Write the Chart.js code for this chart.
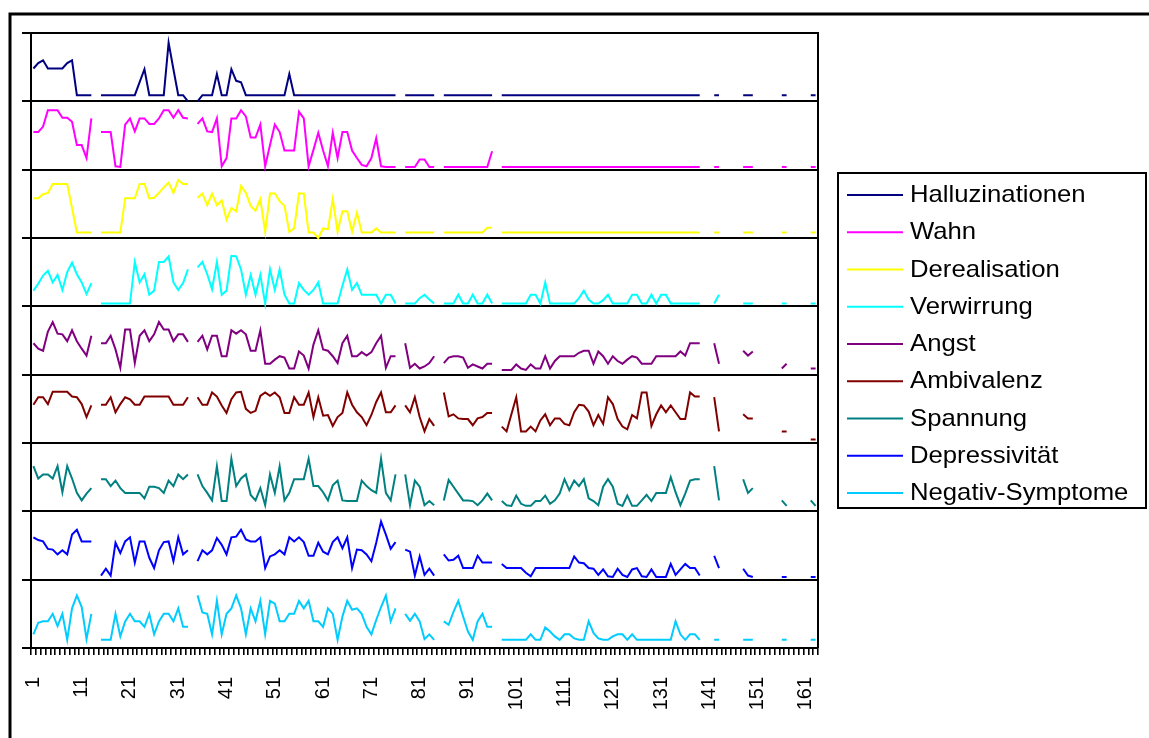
<!DOCTYPE html>
<html>
<head>
<meta charset="utf-8">
<title>Symptomverlauf</title>
<script src="https://cdn.jsdelivr.net/npm/chart.js@4.4.1/dist/chart.umd.min.js"></script>
<style>
html, body { margin: 0; padding: 0; background: #fff; }
#wrap { width: 1149px; height: 738px; position: relative; }
</style>
</head>
<body>
<div id="wrap"><canvas id="chart"></canvas></div>
<script>
var _ = null;

// Beobachtungstage 1..163
var days = [];
for (var d = 1; d <= 163; d++) days.push(String(d));

var names = ['Halluzinationen', 'Wahn', 'Derealisation', 'Verwirrung', 'Angst',
             'Ambivalenz', 'Spannung', 'Depressivität', 'Negativ-Symptome'];
var colors = ['#000080', '#ff00ff', '#ffff00', '#00ffff', '#800080',
              '#800000', '#008080', '#0000ff', '#00ccff'];

// Werte je Feld, 0 = unterer Rand, 10 = oberer Rand des Feldes
var halluzinationen = [
  4.8, 5.6, 6.0, 4.8, 4.8, 4.8, 4.8, 5.6, 6.0, 0.9, 0.9, 0.9, 0.9, _,
  0.9, 0.9, 0.9, 0.9, 0.9, 0.9, 0.9, 0.9, 2.8, 4.7, 0.9, 0.9, 0.9, 0.9, 8.6, 4.7, 0.9, 0.9, 0.0, _,
  0.0, 0.9, 0.9, 0.9, 4.0, 0.9, 0.9, 4.7, 3.0, 2.8,
  0.9, 0.9, 0.9, 0.9, 0.9, 0.9, 0.9, 0.9, 0.9, 4.0,
  0.9, 0.9, 0.9, 0.9, 0.9, 0.9, 0.9, 0.9, 0.9, 0.9,
  0.9, 0.9, 0.9, 0.9, 0.9, 0.9, 0.9, 0.9, 0.9, 0.9,
  0.9, 0.9, _,
  0.9, 0.9, 0.9, 0.9, 0.9, 0.9, 0.9, _,
  0.9, 0.9, 0.9, 0.9, 0.9, 0.9, 0.9, 0.9, 0.9, 0.9, 0.9, _,
  0.9, 0.9, 0.9, 0.9, 0.9, 0.9, 0.9, 0.9, 0.9, 0.9,
  0.9, 0.9, 0.9, 0.9, 0.9, 0.9, 0.9, 0.9, 0.9, 0.9,
  0.9, 0.9, 0.9, 0.9, 0.9, 0.9, 0.9, 0.9, 0.9, 0.9,
  0.9, 0.9, 0.9, 0.9, 0.9, 0.9, 0.9, 0.9, 0.9, 0.9,
  0.9, 0.9,
  _, _, 0.9, 0.9, _, _, _, _, 0.9, 0.9, 0.9, _, _, _, _, _, 0.9, 0.9, _, _, _, _, 0.9, 0.9
];
var wahn = [
  5.5, 5.5, 6.3, 8.7, 8.7, 8.7, 7.6, 7.6, 7.0, 3.6, 3.6, 1.7, 7.5, _,
  5.5, 5.5, 5.5, 0.5, 0.4, 6.6, 7.5, 5.6, 7.5, 7.5, 6.7, 6.7, 7.5, 8.7, 8.7, 7.6, 8.7, 7.6, 7.5, _,
  6.7, 7.5, 5.6, 5.5, 7.5, 0.5, 1.7, 7.5, 7.5, 8.7,
  7.8, 4.7, 4.7, 6.6, 0.5, 3.6, 6.6, 5.5, 2.8, 2.8,
  2.8, 8.5, 7.5, 0.5, 2.9, 5.4, 2.8, 0.5, 5.4, 1.7,
  5.5, 5.5, 2.8, 1.7, 0.7, 0.5, 1.7, 4.6, 0.5, 0.4,
  0.4, 0.4, _,
  0.4, 0.4, 0.4, 1.5, 1.5, 0.4, 0.4, _,
  0.4, 0.4, 0.4, 0.4, 0.4, 0.4, 0.4, 0.4, 0.4, 0.4, 2.7, _,
  0.4, 0.4, 0.4, 0.4, 0.4, 0.4, 0.4, 0.4, 0.4, 0.4,
  0.4, 0.4, 0.4, 0.4, 0.4, 0.4, 0.4, 0.4, 0.4, 0.4,
  0.4, 0.4, 0.4, 0.4, 0.4, 0.4, 0.4, 0.4, 0.4, 0.4,
  0.4, 0.4, 0.4, 0.4, 0.4, 0.4, 0.4, 0.4, 0.4, 0.4,
  0.4, 0.4,
  _, _, 0.4, 0.4, _, _, _, _, 0.4, 0.4, 0.4, _, _, _, _, _, 0.4, 0.4, _, _, _, _, 0.4, 0.4
];
var derealisation = [
  5.8, 5.8, 6.4, 6.6, 7.9, 7.9, 7.9, 7.9, 4.4, 0.8, 0.8, 0.8, 0.8, _,
  0.8, 0.8, 0.8, 0.8, 0.8, 5.8, 5.8, 5.8, 7.9, 7.9, 5.8, 5.9, 6.6, 7.4, 8.1, 6.6, 8.5, 7.9, 7.9, _,
  5.9, 6.5, 4.8, 6.5, 4.8, 5.5, 2.7, 4.4, 3.9, 7.6,
  6.6, 4.7, 4.0, 5.7, 0.9, 6.5, 6.5, 5.4, 4.7, 0.9,
  1.4, 6.5, 6.5, 0.8, 0.8, 0.0, 1.4, 1.3, 5.7, 0.9,
  3.9, 3.9, 0.9, 3.7, 0.8, 0.8, 0.8, 1.4, 0.8, 0.8,
  0.8, 0.8, _,
  0.8, 0.8, 0.8, 0.8, 0.8, 0.8, 0.8, _,
  0.8, 0.8, 0.8, 0.8, 0.8, 0.8, 0.8, 0.8, 0.8, 1.5, 1.5, _,
  0.8, 0.8, 0.8, 0.8, 0.8, 0.8, 0.8, 0.8, 0.8, 0.8,
  0.8, 0.8, 0.8, 0.8, 0.8, 0.8, 0.8, 0.8, 0.8, 0.8,
  0.8, 0.8, 0.8, 0.8, 0.8, 0.8, 0.8, 0.8, 0.8, 0.8,
  0.8, 0.8, 0.8, 0.8, 0.8, 0.8, 0.8, 0.8, 0.8, 0.8,
  0.8, 0.8,
  _, _, 0.8, 0.8, _, _, _, _, 0.8, 0.8, 0.8, _, _, _, _, _, 0.8, 0.8, _, _, _, _, 0.8, 0.8
];
var verwirrung = [
  2.3, 3.3, 4.5, 5.2, 3.5, 4.6, 2.4, 5.0, 6.4, 4.7, 3.5, 1.8, 3.4, _,
  0.4, 0.4, 0.4, 0.4, 0.4, 0.4, 0.4, 6.5, 3.5, 4.7, 1.7, 2.3, 6.5, 6.5, 7.3, 3.5, 2.4, 3.4, 5.4, _,
  5.7, 6.5, 4.7, 2.5, 6.5, 1.7, 2.3, 7.4, 7.3, 5.4,
  1.7, 4.6, 1.7, 4.6, 0.4, 5.4, 2.4, 5.4, 1.7, 0.4,
  0.4, 3.4, 2.4, 1.7, 2.4, 3.5, 0.4, 0.4, 0.4, 0.4,
  3.0, 5.4, 2.4, 3.4, 1.7, 1.7, 1.7, 1.7, 0.4, 1.7,
  1.7, 0.4, _,
  0.4, 0.4, 0.4, 1.2, 1.7, 1.0, 0.4, _,
  0.4, 0.4, 0.4, 1.7, 0.4, 0.4, 1.7, 0.4, 0.4, 1.7, 0.4, _,
  0.4, 0.4, 0.4, 0.4, 0.4, 0.4, 1.7, 1.7, 0.4, 3.5,
  0.4, 0.4, 0.4, 0.4, 0.4, 0.4, 1.2, 2.3, 1.0, 0.4,
  0.4, 0.9, 1.7, 0.4, 0.4, 0.4, 0.4, 1.7, 1.7, 0.4,
  0.4, 1.7, 0.4, 1.7, 1.7, 0.4, 0.4, 0.4, 0.4, 0.4,
  0.4, 0.4,
  _, _, 0.4, 1.7, _, _, _, _, 0.4, 0.4, 0.4, _, _, _, _, _, 0.4, 0.4, _, _, _, _, 0.4, 0.4
];
var angst = [
  4.6, 3.8, 3.5, 6.3, 7.7, 6.0, 5.9, 4.9, 6.5, 4.9, 3.8, 2.8, 5.7, _,
  4.6, 4.6, 5.7, 3.7, 1.0, 6.6, 6.6, 1.7, 5.7, 6.5, 4.9, 5.9, 7.7, 6.6, 6.6, 4.9, 5.9, 5.9, 4.8, _,
  4.8, 5.7, 3.7, 5.7, 5.7, 2.7, 2.7, 6.5, 6.0, 6.5,
  5.9, 3.5, 3.5, 6.5, 1.6, 1.6, 2.2, 2.7, 2.5, 0.9,
  0.9, 3.4, 2.8, 0.9, 4.4, 6.5, 3.7, 3.5, 2.7, 1.7,
  4.6, 5.7, 2.7, 2.7, 3.3, 2.8, 3.3, 4.6, 5.7, 1.0,
  2.7, 2.7, _,
  4.6, 1.0, 1.6, 0.9, 1.2, 1.7, 2.7, _,
  1.7, 2.5, 2.7, 2.7, 2.5, 1.0, 1.5, 1.2, 0.9, 1.6, 1.6, _,
  0.7, 0.7, 0.7, 1.5, 0.9, 0.7, 1.5, 0.9, 0.9, 2.7,
  0.9, 2.0, 2.7, 2.7, 2.7, 2.7, 3.2, 3.5, 3.5, 1.6,
  3.4, 2.7, 1.6, 2.7, 2.0, 1.6, 2.2, 2.7, 2.5, 1.6,
  1.6, 1.6, 2.7, 2.7, 2.7, 2.7, 2.7, 3.4, 2.8, 4.6,
  4.6, 4.6,
  _, _, 4.6, 1.6, _, _, _, _, 3.5, 2.8, 3.4, _, _, _, _, _, 0.9, 1.6, _, _, _, _, 0.9, 0.9
];
var ambivalenz = [
  5.6, 6.7, 6.7, 5.7, 7.5, 7.5, 7.5, 7.5, 6.8, 6.7, 5.7, 3.8, 5.5, _,
  5.6, 5.6, 6.7, 4.5, 5.7, 6.7, 6.4, 5.6, 5.6, 6.8, 6.8, 6.8, 6.8, 6.8, 6.8, 5.6, 5.6, 5.6, 6.7, _,
  6.7, 5.6, 5.6, 7.4, 6.8, 5.5, 4.4, 6.4, 7.4, 7.5,
  5.0, 4.4, 4.7, 6.9, 7.4, 6.9, 7.4, 6.7, 4.4, 4.4,
  6.7, 5.6, 5.6, 7.4, 3.8, 6.7, 4.0, 4.1, 2.5, 3.8,
  4.4, 7.4, 5.6, 4.5, 3.8, 2.6, 4.1, 6.0, 7.4, 4.5,
  4.5, 5.5, _,
  5.5, 4.5, 6.7, 3.8, 1.7, 3.5, 2.5, _,
  7.4, 3.9, 4.2, 3.6, 3.5, 3.5, 2.6, 3.6, 3.8, 4.4, 4.4, _,
  2.4, 1.7, 4.2, 6.7, 1.7, 1.7, 2.4, 1.7, 3.3, 4.2,
  2.6, 3.6, 3.6, 2.8, 2.6, 4.5, 5.6, 5.5, 4.6, 2.6,
  4.1, 2.8, 6.7, 5.7, 3.5, 2.4, 2.0, 4.1, 3.6, 7.4,
  7.4, 2.5, 4.2, 5.5, 4.5, 5.5, 4.5, 3.5, 3.5, 7.4,
  6.8, 6.8,
  _, _, 6.7, 1.7, _, _, _, _, 4.2, 3.6, 3.6, _, _, _, _, _, 1.7, 1.7, _, _, _, _, 0.5, 0.5
];
var spannung = [
  6.6, 4.8, 5.4, 5.4, 4.8, 6.6, 2.8, 6.6, 4.8, 2.7, 1.6, 2.6, 3.4, _,
  4.7, 4.7, 3.7, 4.5, 3.4, 2.7, 2.7, 2.7, 2.7, 1.9, 3.6, 3.6, 3.4, 2.7, 4.5, 3.7, 5.4, 4.7, 5.4, _,
  5.4, 3.7, 2.7, 1.6, 6.6, 1.5, 1.5, 7.7, 3.7, 4.8,
  5.4, 2.4, 1.6, 3.4, 0.9, 5.4, 2.7, 6.6, 1.6, 2.7,
  4.7, 4.7, 4.7, 7.7, 3.7, 3.7, 2.8, 1.6, 3.8, 4.5,
  1.6, 1.5, 1.5, 1.5, 4.5, 3.7, 3.1, 2.7, 7.7, 2.7,
  1.6, 5.4, _,
  5.4, 0.9, 4.5, 3.6, 0.9, 1.5, 0.9, _,
  1.6, 4.6, 3.6, 2.6, 1.6, 1.6, 1.5, 0.9, 1.6, 2.6, 1.6, _,
  1.5, 0.9, 0.8, 2.3, 1.1, 0.8, 0.8, 1.5, 1.5, 2.3,
  1.1, 1.6, 2.6, 4.7, 3.1, 4.5, 3.7, 4.7, 1.9, 1.5,
  0.9, 3.6, 4.7, 3.6, 1.1, 0.8, 2.3, 0.8, 0.8, 1.6,
  2.4, 1.5, 2.7, 2.7, 2.7, 5.0, 2.8, 0.9, 2.6, 4.5,
  4.7, 4.7,
  _, _, 6.6, 1.6, _, _, _, _, 4.7, 2.7, 3.4, _, _, _, _, _, 1.6, 0.8, _, _, _, _, 1.6, 0.8
];
var depressivitaet = [
  6.2, 5.8, 5.6, 4.5, 4.4, 3.7, 4.3, 3.7, 6.6, 7.3, 5.6, 5.6, 5.6, _,
  0.6, 1.6, 0.6, 5.4, 3.9, 5.6, 6.2, 2.5, 5.6, 5.6, 3.2, 1.7, 4.3, 5.5, 5.6, 2.7, 6.2, 3.7, 4.3, _,
  2.7, 4.3, 3.7, 4.3, 6.1, 5.1, 3.7, 6.2, 6.3, 7.3,
  5.9, 5.6, 5.6, 6.2, 1.7, 3.4, 3.7, 4.3, 3.7, 6.2,
  5.6, 6.2, 5.5, 3.5, 3.5, 5.4, 4.1, 3.7, 5.5, 6.2,
  4.6, 6.2, 1.7, 4.4, 4.3, 3.7, 2.7, 5.4, 8.5, 6.6,
  4.5, 5.5, _,
  4.4, 4.1, 0.6, 3.4, 0.7, 1.6, 0.6, _,
  3.7, 2.8, 2.9, 3.5, 1.7, 1.7, 1.7, 3.5, 2.5, 2.5, 2.5, _,
  2.3, 1.7, 1.7, 1.7, 1.7, 1.0, 0.5, 1.7, 1.7, 1.7,
  1.7, 1.7, 1.7, 1.7, 1.7, 3.4, 2.5, 2.4, 1.7, 1.6,
  0.7, 1.5, 0.5, 0.4, 1.6, 0.7, 0.4, 1.5, 1.7, 0.5,
  0.4, 1.5, 0.4, 0.4, 0.4, 2.3, 0.7, 1.5, 2.3, 1.7,
  1.7, 0.6,
  _, _, 3.5, 1.7, _, _, _, _, 1.6, 0.6, 0.4, _, _, _, _, _, 0.4, 0.4, _, _, _, _, 0.4, 0.4
];
var negativ = [
  2.0, 3.7, 3.9, 3.9, 5.0, 3.2, 5.0, 1.2, 5.8, 7.7, 6.0, 1.3, 5.0, _,
  1.2, 1.2, 1.2, 5.0, 1.7, 3.9, 5.0, 3.9, 3.9, 3.1, 5.0, 2.0, 3.9, 5.0, 5.0, 3.9, 5.8, 3.1, 3.1, _,
  7.7, 5.2, 5.0, 2.0, 6.9, 2.0, 5.0, 5.8, 7.7, 5.8,
  2.0, 5.8, 3.9, 6.9, 2.0, 6.9, 6.5, 3.9, 3.9, 5.0,
  5.0, 6.9, 5.8, 6.9, 3.9, 3.9, 3.1, 5.8, 5.0, 1.2,
  4.6, 6.9, 5.6, 5.8, 5.0, 3.1, 2.0, 4.1, 6.0, 7.7,
  3.9, 5.8, _,
  5.0, 4.0, 5.0, 3.9, 1.3, 2.0, 1.2, _,
  3.9, 3.4, 5.3, 6.9, 4.6, 2.4, 1.2, 3.9, 5.0, 3.1, 3.1, _,
  1.2, 1.2, 1.2, 1.2, 1.2, 1.2, 2.0, 1.2, 1.2, 3.0,
  2.4, 1.7, 1.2, 2.0, 2.0, 1.4, 1.2, 1.2, 3.9, 2.2,
  1.4, 1.2, 1.2, 1.7, 2.0, 2.0, 1.2, 2.0, 1.2, 1.2,
  1.2, 1.2, 1.2, 1.2, 1.2, 1.2, 3.9, 2.0, 1.2, 2.0,
  2.0, 1.2,
  _, _, 1.2, 1.2, _, _, _, _, 1.2, 1.2, 1.2, _, _, _, _, _, 1.2, 1.2, _, _, _, _, 1.2, 1.2
];

var series = [halluzinationen, wahn, derealisation, verwirrung, angst,
              ambivalenz, spannung, depressivitaet, negativ];

// jede Reihe bekommt ihr eigenes Feld, oben die erste
var datasets = series.map(function (vals, k) {
    var offset = (series.length - 1 - k) * 10;
    return {
        label: names[k],
        data: vals.map(function (v) { return v === null ? null : v + offset; }),
        borderColor: colors[k],
        backgroundColor: colors[k],
        borderWidth: 2,
        pointRadius: 0,
        pointHoverRadius: 0,
        tension: 0,
        fill: false,
        spanGaps: false
    };
});

var frame = {
    id: 'frame',
    beforeDraw: function (chart) {
        var ctx = chart.ctx;
        ctx.save();
        ctx.fillStyle = '#fff';
        ctx.fillRect(0, 0, chart.width, chart.height);
        ctx.strokeStyle = '#000';
        ctx.lineWidth = 3;
        ctx.beginPath();
        ctx.moveTo(10, chart.height + 5);
        ctx.lineTo(10, 14);
        ctx.lineTo(chart.width + 5, 14);
        ctx.stroke();
        ctx.restore();
    },
    afterDraw: function (chart) {
        var ctx = chart.ctx, a = chart.chartArea;
        ctx.save();
        ctx.strokeStyle = '#000';
        ctx.lineWidth = 2;
        ctx.beginPath();
        ctx.moveTo(a.right, a.top - 1);
        ctx.lineTo(a.right, a.bottom);
        ctx.stroke();

        // Legende mit Rahmen
        var bx = 838, by = 173, bw = 308, bh = 335;
        ctx.lineWidth = 2;
        ctx.strokeRect(bx, by, bw, bh);
        ctx.font = '24px "Liberation Sans", Arial, sans-serif';
        ctx.textBaseline = 'alphabetic';
        ctx.fillStyle = '#000';
        names.forEach(function (name, k) {
            var y = 195 + k * 37.25;
            ctx.strokeStyle = colors[k];
            ctx.lineWidth = 2;
            ctx.beginPath();
            ctx.moveTo(847, y);
            ctx.lineTo(903, y);
            ctx.stroke();
            ctx.save();
            ctx.translate(910, y + 7);
            ctx.scale(1.07, 1);
            ctx.fillText(name, 0, 0);
            ctx.restore();
        });
        ctx.restore();
    }
};

new Chart(document.getElementById('chart'), {
    type: 'line',
    data: { labels: days, datasets: datasets },
    options: {
        responsive: true,
        maintainAspectRatio: false,
        animation: false,
        layout: { padding: { left: 22, top: 33, right: 331, bottom: 0 } },
        plugins: {
            legend: { display: false },
            tooltip: { enabled: false },
            title: { display: false }
        },
        scales: {
            x: {
                type: 'category',
                offset: true,
                afterFit: function (s) { s.height = 90; },
                grid: { drawOnChartArea: false, color: '#000', lineWidth: 1.6, tickLength: 7, offset: true },
                border: { display: true, color: '#000', width: 2 },
                ticks: {
                    autoSkip: false,
                    minRotation: 90,
                    maxRotation: 90,
                    padding: 22,
                    color: '#000',
                    font: { family: '"Liberation Sans", Arial, sans-serif', size: 20 },
                    callback: function (v, i) { return i % 10 === 0 ? this.getLabelForValue(v) : ''; }
                }
            },
            y: {
                min: 0,
                max: 90,
                afterFit: function (s) { s.width = 9; },
                grid: { color: '#000', lineWidth: 2, tickLength: 9 },
                border: { display: true, color: '#000', width: 2 },
                ticks: { stepSize: 10, display: false }
            }
        }
    },
    plugins: [frame]
});
</script>
</body>
</html>
